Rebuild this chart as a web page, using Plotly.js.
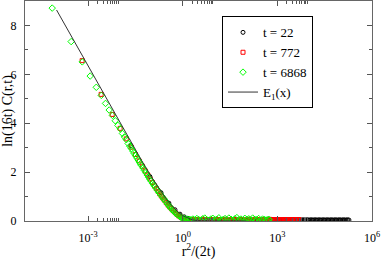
<!DOCTYPE html>
<html>
<head>
<meta charset="utf-8">
<script src="https://cdn.plot.ly/plotly-3.0.1.min.js"></script>
<style>
	body { margin: 0; background: #fff; }
	#correlationPlot { width: 382px; height: 260px; }
</style>
</head>
<body>
<div id="correlationPlot"></div>
<script>

// t = 22 (black circles)
const x_t22 = [0.0227, 0.0909, 0.2045, 0.364, 0.568, 0.818, 1.114, 1.455, 1.84, 2.27, 2.75, 3.27, 3.84, 4.45, 5.11, 5.82, 6.57, 7.36, 8.2, 9.1, 10.5, 12.5, 15, 18, 22, 27, 33, 40, 48, 58, 70, 85, 100, 120, 145, 175, 210, 250, 300, 360, 430, 520, 620, 750, 900, 1080, 1300, 1560, 1870, 2250, 2700, 3250, 3900, 4400, 4900, 5400, 6000, 6600, 7300, 8000, 8800, 9700, 10700, 11800, 13000, 14300, 15800, 17400, 19200, 21200, 23400, 25800, 28500, 31400, 34700, 38300, 42200, 46600, 51400, 56700, 62600, 69100, 76200, 84100, 92800, 102000, 113000, 125000, 138000, 152000, 168000, 186000];
const y_t22 = [3.09, 1.82, 1.16, 0.73, 0.46, 0.28, 0.17, 0.11, 0.07, 0.05, 0.05, 0.04, 0.05, 0.04, 0.04, 0.05, 0.04, 0.04, 0.05, 0.04, 0.04, 0.05, 0.04, 0.04, 0.05, 0.04, 0.04, 0.05, 0.04, 0.04, 0.05, 0.04, 0.04, 0.05, 0.04, 0.04, 0.05, 0.04, 0.04, 0.05, 0.04, 0.04, 0.05, 0.04, 0.04, 0.05, 0.04, 0.04, 0.05, 0.04, 0.04, 0.05, 0.04, 0.04, 0.05, 0.04, 0.04, 0.05, 0.04, 0.04, 0.05, 0.04, 0.04, 0.05, 0.04, 0.04, 0.05, 0.04, 0.04, 0.05, 0.04, 0.04, 0.05, 0.04, 0.04, 0.05, 0.04, 0.04, 0.05, 0.04, 0.04, 0.05, 0.04, 0.04, 0.05, 0.04, 0.04, 0.05, 0.04, 0.04, 0.05, 0.04];

// t = 772 (red squares)
const x_t772 = [6.48e-4, 2.59e-3, 5.83e-3, 1.036e-2, 1.62e-2, 2.33e-2, 3.17e-2, 4.15e-2, 5.25e-2, 6.48e-2, 7.84e-2, 9.33e-2, 0.11, 0.127, 0.146, 0.166, 0.187, 0.21, 0.234, 0.259, 0.3, 0.343, 0.39, 0.438, 0.5, 0.583, 0.66, 0.749, 0.84, 0.935, 1.04, 1.14, 1.3, 1.5, 1.75, 2.1, 2.5, 3, 3.6, 4.3, 5.2, 6.2, 7.5, 9, 11, 13, 16, 19, 23, 28, 34, 41, 50, 60, 72, 87, 105, 126, 152, 183, 220, 265, 320, 385, 460, 500, 560, 610, 670, 730, 800, 880, 960, 1050, 1150, 1260, 1380, 1510, 1650, 1810, 1980, 2170, 2380, 2600, 2850, 3120, 3420, 3740, 4100, 4500, 4900, 5000];
const y_t772 = [6.56, 5.18, 4.36, 3.79, 3.36, 3.02, 2.72, 2.46, 2.24, 2.05, 1.88, 1.72, 1.57, 1.44, 1.32, 1.21, 1.11, 1.02, 0.94, 0.86, 0.75, 0.65, 0.57, 0.50, 0.42, 0.34, 0.27, 0.21, 0.17, 0.13, 0.10, 0.08, 0.06, 0.05, 0.05, 0.04, 0.06, 0.05, 0.04, 0.07, 0.05, 0.04, 0.06, 0.05, 0.03, 0.06, 0.05, 0.04, 0.07, 0.05, 0.04, 0.06, 0.05, 0.03, 0.06, 0.05, 0.04, 0.07, 0.05, 0.04, 0.06, 0.05, 0.03, 0.06, 0.05, 0.04, 0.07, 0.05, 0.04, 0.06, 0.05, 0.03, 0.06, 0.05, 0.04, 0.05, 0.05, 0.04, 0.06, 0.05, 0.04, 0.05, 0.05, 0.04, 0.06, 0.05, 0.04, 0.05, 0.05, 0.04, 0.05, 0.04];

// t = 6868 (green diamonds)
const x_t6868 = [7.28e-5, 2.91e-4, 6.55e-4, 1.165e-3, 1.82e-3, 2.62e-3, 3.57e-3, 4.66e-3, 5.9e-3, 7.28e-3, 8.81e-3, 1.048e-2, 1.23e-2, 1.427e-2, 1.638e-2, 1.864e-2, 2.1e-2, 2.36e-2, 2.63e-2, 2.91e-2, 3.21e-2, 3.52e-2, 3.85e-2, 4.19e-2, 4.55e-2, 4.92e-2, 5.5e-2, 6.1e-2, 6.8e-2, 7.5e-2, 8.3e-2, 9.2e-2, 0.1, 0.11, 0.12, 0.13, 0.145, 0.16, 0.175, 0.19, 0.21, 0.23, 0.25, 0.275, 0.3, 0.33, 0.36, 0.39, 0.43, 0.47, 0.51, 0.56, 0.61, 0.67, 0.73, 0.8, 0.87, 0.95, 1.04, 1.14, 1.25, 1.4, 1.6, 1.8, 2.1, 2.4, 2.8, 3.2, 3.7, 4.3, 5, 5.8, 6.7, 7.8, 9, 10.5, 12, 14, 16, 19, 22, 25, 29, 34, 39, 45, 52, 60, 70, 80, 93, 107, 124, 143, 165, 190, 220, 255, 295, 340, 390, 450, 520, 550];
const y_t6868 = [8.71, 7.34, 6.51, 5.93, 5.47, 5.14, 4.81, 4.54, 4.32, 4.10, 3.91, 3.77, 3.58, 3.44, 3.33, 3.17, 3.06, 2.96, 2.86, 2.76, 2.67, 2.58, 2.50, 2.42, 2.34, 2.27, 2.17, 2.07, 1.97, 1.88, 1.79, 1.70, 1.63, 1.55, 1.48, 1.42, 1.33, 1.25, 1.18, 1.12, 1.04, 0.97, 0.91, 0.84, 0.77, 0.70, 0.64, 0.58, 0.52, 0.46, 0.41, 0.36, 0.31, 0.27, 0.23, 0.19, 0.16, 0.13, 0.11, 0.09, 0.08, 0.07, 0.06, 0.05, 0.08, 0.04, 0.10, 0.06, 0.03, 0.09, 0.12, 0.05, 0.02, 0.08, 0.11, 0.04, 0.07, 0.13, 0.03, 0.06, 0.10, 0.04, 0.12, 0.07, 0.03, 0.09, 0.14, 0.05, 0.08, 0.03, 0.11, 0.06, 0.09, 0.04, 0.12, 0.07, 0.05, 0.10, 0.03, 0.08, 0.06, 0.04, 0.07, 0.05];

// E1(x) curve
const x_e1 = [1e-4, 2e-4, 5e-4, 1e-3, 2e-3, 5e-3, 0.01, 0.02, 0.05, 0.1, 0.15, 0.2, 0.3, 0.4, 0.5, 0.7, 1, 1.5, 2, 3, 5, 10, 100];
const y_e1 = [8.633, 7.940, 7.024, 6.332, 5.639, 4.726, 4.038, 3.355, 2.468, 1.823, 1.465, 1.223, 0.906, 0.702, 0.560, 0.374, 0.219, 0.100, 0.049, 0.013, 0.001, 0, 0];

const x_tickvals = [1e-3, 1, 1e3, 1e6];
const x_ticktext = ['10<sup>-3</sup>', '10<sup>0</sup>', '10<sup>3</sup>', '10<sup>6</sup>'];
const x_minorvals = [2e-3, 3e-3, 4e-3, 5e-3, 6e-3, 7e-3, 8e-3, 9e-3, 2, 3, 4, 5, 6, 7, 8, 9, 2e3, 3e3, 4e3, 5e3, 6e3, 7e3, 8e3, 9e3];
const y_tickvals = [0, 2, 4, 6, 8];

const SERIF = 'Liberation Serif, Times New Roman, serif';

function plotCorrelationCollapse(){
	const traces = [
		{
			x: x_t22,
			y: y_t22,
			mode: 'markers',
			type: 'scatter',
			name: 't = 22',
			marker: {symbol: 'circle-open', size: 4, color: '#000000', line: {width: 1}}
		},
		{
			x: x_t772,
			y: y_t772,
			mode: 'markers',
			type: 'scatter',
			name: 't = 772',
			marker: {symbol: 'square-open', size: 4, color: '#ff0000', line: {width: 1}}
		},
		{
			x: x_t6868,
			y: y_t6868,
			mode: 'markers',
			type: 'scatter',
			name: 't = 6868',
			marker: {symbol: 'diamond-open', size: 5, color: '#00ff00', line: {width: 1}}
		},
		{
			x: x_e1,
			y: y_e1,
			mode: 'lines',
			type: 'scatter',
			name: 'E<sub>1</sub>(x)',
			line: {color: '#333333', width: 1}
		}
	];

	const axisStyle = {
		showline: true,
		linecolor: '#666666',
		linewidth: 1,
		mirror: 'ticks',
		ticks: 'inside',
		ticklen: 5,
		tickwidth: 1,
		tickcolor: '#555555',
		showgrid: false,
		zeroline: false,
		layer: 'above traces',
		tickfont: {family: SERIF, size: 12, color: '#000'}
	};

	const layout = {
		width: 382,
		height: 260,
		paper_bgcolor: '#ffffff',
		plot_bgcolor: '#ffffff',
		margin: {l: 25, r: 10, t: 1, b: 39},
		font: {family: SERIF, color: '#000'},
		xaxis: Object.assign({}, axisStyle, {
			type: 'log',
			range: [-5, 6],
			tickmode: 'array',
			tickvals: x_tickvals,
			ticktext: x_ticktext,
			ticklabelstandoff: 6,
			minor: {tickmode: 'array', tickvals: x_minorvals, ticks: 'inside', ticklen: 3, tickcolor: '#555555', showgrid: false},
			title: {text: 'r<sup>2</sup>/(2t)', font: {family: SERIF, size: 14}, standoff: 6}
		}),
		yaxis: Object.assign({}, axisStyle, {
			range: [0, 9],
			tickmode: 'array',
			tickvals: y_tickvals,
			ticklabelstandoff: 5,
			minor: {dtick: 1, ticks: 'inside', ticklen: 3, tickcolor: '#555555', showgrid: false},
			title: {text: 'ln(16t) C(r,t)', font: {family: SERIF, size: 14}, standoff: 0}
		}),
		showlegend: true,
		legend: {
			x: 0.83,
			xanchor: 'right',
			y: 0.93,
			yanchor: 'top',
			bgcolor: '#ffffff',
			bordercolor: '#000000',
			borderwidth: 1,
			tracegroupgap: 0,
			itemwidth: 30,
			entrywidth: 52,
			entrywidthmode: 'pixels',
			font: {family: SERIF, size: 13, color: '#000'}
		}
	};

	Plotly.newPlot('correlationPlot', traces, layout, {displayModeBar: false});
}

plotCorrelationCollapse();
</script>
</body>
</html>
